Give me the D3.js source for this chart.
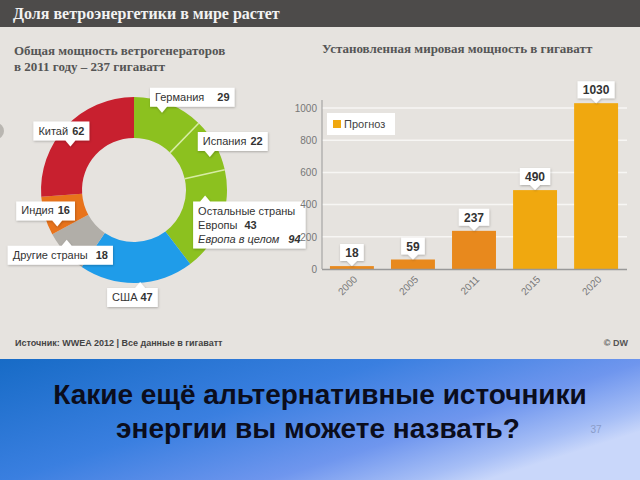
<!DOCTYPE html>
<html><head><meta charset="utf-8">
<script src="https://cdn.jsdelivr.net/npm/d3@7"></script>
<style>body{margin:0;overflow:hidden;background:#e6e3df}</style>
</head><body>
<svg id="c" width="640" height="480"></svg>
<script>
// ---- data ----
const pieCategories = ["Германия","Испания","Остальные страны Европы","США","Другие страны","Индия","Китай"];
const pieValues = [29,22,43,47,18,16,62];
const europeTotal = 94;
const barYears = ["2000","2005","2011","2015","2020"];
const barValues = [18,59,237,490,1030];
const barForecast = [false,false,false,true,true];
const yTicks = [0,200,400,600,800,1000];
const legendLabel = "Прогноз";

// ---- styles ----
const pieColors = ["#8cc11f","#8cc11f","#8cc11f","#1f9ce9","#b1aea8","#e8731b","#c8202f"];
const colActual = "#e8891d", colForecast = "#f0a80f";

const svg = d3.select("#c");
const defs = svg.append("defs");
const f = defs.append("filter").attr("id","sh").attr("x","-20%").attr("y","-20%").attr("width","140%").attr("height","150%");
f.append("feDropShadow").attr("dx",0.5).attr("dy",1).attr("stdDeviation",1).attr("flood-color","#000").attr("flood-opacity",0.25);
const g = defs.append("linearGradient").attr("id","bg").attr("x1","0").attr("y1","0").attr("x2","1").attr("y2","0.6");
[[0,"#176bc6"],[0.45,"#3a7fe0"],[0.75,"#6f96ee"],[0.92,"#a6bef6"],[1,"#c9d7fa"]].forEach(s=>g.append("stop").attr("offset",s[0]).attr("stop-color",s[1]));

// background
svg.append("rect").attr("width",640).attr("height",480).attr("fill","#e6e3df");
svg.append("rect").attr("width",640).attr("height",27).attr("fill","#4d4b4a");
svg.append("rect").attr("y",359).attr("width",640).attr("height",121).attr("fill","url(#bg)");
svg.append("circle").attr("cx",-4).attr("cy",131).attr("r",8).attr("fill","#b9b6b1");

svg.append("text").attr("x",13).attr("y",19).attr("font-family","Liberation Serif, serif").attr("font-weight","bold")
  .attr("font-size",16).attr("fill","#f2f2f2").text("Доля ветроэнергетики в мире растет");
const sub = svg.append("text").attr("font-family","Liberation Serif, serif").attr("font-weight","bold").attr("font-size",13).attr("fill","#555");
sub.append("tspan").attr("x",14).attr("y",55).text("Общая мощность ветрогенераторов");
sub.append("tspan").attr("x",14).attr("y",71).text("в 2011 году – 237 гигаватт");
svg.append("text").attr("x",322).attr("y",53).attr("font-family","Liberation Serif, serif").attr("font-weight","bold")
  .attr("font-size",13).attr("fill","#555").text("Установленная мировая мощность в гигаватт");

// ---- donut ----
const cx = 134, cy = 190, rIn = 52, rOut = 93;
const pie = d3.pie().sort(null).value(d=>d)(pieValues);
const arc = d3.arc().innerRadius(rIn).outerRadius(rOut);
const pg = svg.append("g").attr("transform",`translate(${cx},${cy})`);
pg.selectAll("path.s").data(pie).join("path").attr("class","s").attr("d",arc).attr("fill",(d,i)=>pieColors[i]);
pie.forEach((d,i)=>{
  if(i>0 && pieColors[i]===pieColors[i-1]){
    const a = d.startAngle;
    pg.append("line").attr("x1",Math.sin(a)*rIn).attr("y1",-Math.cos(a)*rIn)
      .attr("x2",Math.sin(a)*rOut).attr("y2",-Math.cos(a)*rOut).attr("stroke","#d7eca4").attr("stroke-width",1.5);
  }
});

// callouts
const FS = 11;
function callout(parent, tip, dir, bx, lines){
  const gg = parent.append("g");
  const path = gg.append("path").attr("fill","#fff").attr("filter","url(#sh)");
  const txt = gg.append("text").attr("font-family","Liberation Sans, Arial, sans-serif").attr("font-size",FS).attr("fill","#333");
  const lh = 14, h = lines.length*lh + 5;
  const x0 = tip[0] + bx;
  const y0 = dir==="down" ? tip[1] - 6 - h : tip[1] + 6;
  lines.forEach((ln,li)=>{
    const t = txt.append("tspan").attr("x",x0+5).attr("y",y0+13+li*lh);
    ln.forEach((seg,si)=>{
      const s = si===0 ? t : txt.append("tspan");
      s.text(seg.t);
      if(si>0) s.attr("dx",seg.dx||4);
      if(seg.b) s.attr("font-weight","bold");
      if(seg.i) s.attr("font-style","italic");
    });
  });
  const w = txt.node().getBBox().width + 10;
  const px = tip[0];
  let d;
  if(dir==="down"){
    const yb = y0+h;
    d = `M${x0},${y0}H${x0+w}V${yb}H${px+5}L${px},${tip[1]}L${px-5},${yb}H${x0}Z`;
  } else {
    d = `M${x0},${y0}H${px-5}L${px},${tip[1]}L${px+5},${y0}H${x0+w}V${y0+h}H${x0}Z`;
  }
  path.attr("d",d);
}
const cal = svg.append("g");
const layout = [
  {off:[-2,-3], dir:"down", bx:-12},
  {off:[6,6], dir:"down", bx:-12},
  {off:[-4,-22], dir:"up", bx:-12},
  {off:[4,12], dir:"up", bx:-33},
  {off:[-8,-4], dir:"up", bx:-59},
  {off:[0,14], dir:"down", bx:-41},
  {off:[-5,11], dir:"down", bx:-37}
];
const labelLines = [
  [[{t:pieCategories[0]},{t:String(pieValues[0]),b:true,dx:13}]],
  [[{t:pieCategories[1]},{t:String(pieValues[1]),b:true}]],
  [[{t:"Остальные страны"}],[{t:"Европы"},{t:String(pieValues[2]),b:true,dx:7}],[{t:"Европа в целом",i:true},{t:String(europeTotal),b:true,i:true,dx:9}]],
  [[{t:pieCategories[3]},{t:String(pieValues[3]),b:true,dx:3}]],
  [[{t:pieCategories[4]},{t:String(pieValues[4]),b:true,dx:8}]],
  [[{t:pieCategories[5]},{t:String(pieValues[5]),b:true}]],
  [[{t:pieCategories[6]},{t:String(pieValues[6]),b:true}]]
];
pie.forEach((d,i)=>{
  const m = (d.startAngle+d.endAngle)/2, r = 80;
  const tip = [cx + Math.sin(m)*r + layout[i].off[0], cy - Math.cos(m)*r + layout[i].off[1]];
  callout(cal, tip, layout[i].dir, layout[i].bx, labelLines[i]);
});

// ---- bar chart ----
const x = d3.scaleBand().domain(barYears).range([322,626]).paddingInner(0.28).paddingOuter(0.13);
const y = d3.scaleLinear().domain([0,1000]).range([269,108]);
const bc = svg.append("g");
bc.selectAll("line.grid").data(yTicks.filter(t=>t>0)).join("line").attr("class","grid")
  .attr("x1",322).attr("x2",627).attr("y1",d=>y(d)).attr("y2",d=>y(d)).attr("stroke","#f7f6f4").attr("stroke-width",1.5);
bc.selectAll("rect.bar").data(barValues).join("rect").attr("class","bar")
  .attr("x",(d,i)=>x(barYears[i])).attr("width",x.bandwidth())
  .attr("y",d=>y(d)).attr("height",d=>y(0)-y(d))
  .attr("fill",(d,i)=>barForecast[i]?colForecast:colActual);
const ya = bc.append("g").attr("transform","translate(322,0)").call(d3.axisLeft(y).tickValues(yTicks).tickFormat(d3.format("d")).tickSize(0).tickPadding(5));
ya.select(".domain").remove();
ya.selectAll("text").attr("font-family","Liberation Sans, Arial, sans-serif").attr("font-size",10).attr("fill","#777");
bc.append("line").attr("x1",322).attr("x2",322).attr("y1",100).attr("y2",269).attr("stroke","#999");
bc.append("line").attr("x1",322).attr("x2",627).attr("y1",269.5).attr("y2",269.5).attr("stroke","#999").attr("stroke-width",1.5);
const xa = bc.append("g").attr("transform","translate(0,270)").call(d3.axisBottom(x).tickSize(0));
xa.select(".domain").remove();
xa.selectAll("text").attr("font-family","Liberation Sans, Arial, sans-serif").attr("font-size",10).attr("fill","#777")
  .attr("text-anchor","end").attr("dy",0).attr("y",0)
  .attr("transform","translate(6,10) rotate(-45)");
barValues.forEach((v,i)=>{
  const cxp = x(barYears[i]) + x.bandwidth()/2, ty = y(v);
  const gg = bc.append("g");
  const path = gg.append("path").attr("fill","#fff").attr("filter","url(#sh)");
  const t = gg.append("text").attr("x",cxp).attr("y",ty-10).attr("text-anchor","middle")
    .attr("font-family","Liberation Sans, Arial, sans-serif").attr("font-weight","bold").attr("font-size",12).attr("fill","#333").text(v);
  const w = t.node().getBBox().width + 10, h = 17, yb = ty-5, y0 = yb-h;
  path.attr("d",`M${cxp-w/2},${y0}H${cxp+w/2}V${yb}H${cxp+5}L${cxp},${ty}L${cxp-5},${yb}H${cxp-w/2}Z`);
  t.attr("y", y0+13);
});
const lg = bc.append("g");
lg.append("rect").attr("x",327).attr("y",113).attr("width",68).attr("height",22).attr("fill","#fff");
lg.append("rect").attr("x",333).attr("y",120).attr("width",8).attr("height",8).attr("fill",colForecast);
lg.append("text").attr("x",344).attr("y",128).attr("font-family","Liberation Sans, Arial, sans-serif").attr("font-size",11).attr("fill","#444").text(legendLabel);

// footer
svg.append("text").attr("x",15).attr("y",346).attr("font-family","Liberation Sans, Arial, sans-serif").attr("font-weight","bold")
  .attr("font-size",9).attr("fill","#444").text("Источник: WWEA 2012 | Все данные в гигаватт");
svg.append("text").attr("x",628).attr("y",346).attr("text-anchor","end").attr("font-family","Liberation Sans, Arial, sans-serif").attr("font-weight","bold")
  .attr("font-size",9).attr("fill","#555").text("© DW");

// slide text
const q = svg.append("text").attr("text-anchor","middle").attr("font-family","Liberation Sans, Arial, sans-serif").attr("font-weight","bold")
  .attr("font-size",28).attr("fill","#0b0d1c");
q.append("tspan").attr("x",320).attr("y",404).text("Какие ещё альтернативные источники");
q.append("tspan").attr("x",318).attr("y",438).text("энергии вы можете назвать?");
svg.append("text").attr("x",596).attr("y",433).attr("text-anchor","middle").attr("font-family","Liberation Sans, Arial, sans-serif")
  .attr("font-size",10).attr("fill","#8a9cc8").text("37");
</script>
</body></html>
